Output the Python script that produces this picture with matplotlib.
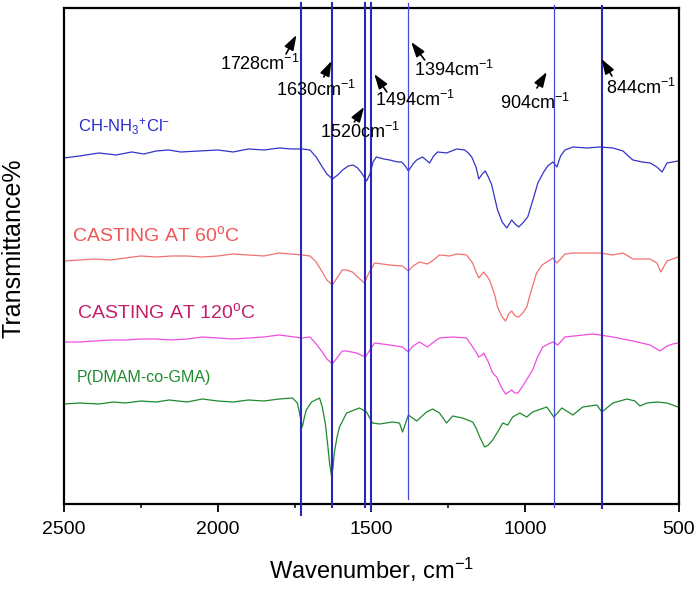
import matplotlib.pyplot as plt
from matplotlib.ticker import MultipleLocator

plt.rcParams['font.family'] = ['Liberation Sans', 'DejaVu Sans']
plt.rcParams['mathtext.fontset'] = 'custom'
plt.rcParams['mathtext.rm'] = 'Liberation Sans'
plt.rcParams['mathtext.it'] = 'Liberation Sans'

# spectra (wavenumber, offset transmittance in arbitrary units)
wn_blue = [2500, 2450, 2386, 2330, 2280, 2240, 2200, 2160, 2120, 2060, 2000, 1950, 1900,
           1850, 1800, 1760, 1725, 1700, 1680, 1660, 1645, 1627, 1610, 1594, 1575, 1560,
           1545, 1532, 1516, 1505, 1495, 1484, 1460, 1441, 1415, 1402, 1390, 1380, 1365,
           1353, 1334, 1311, 1298, 1285, 1256, 1223, 1197, 1185, 1174, 1160, 1151, 1140,
           1130, 1120, 1109, 1100, 1090, 1075, 1060, 1052, 1044, 1033, 1021, 1008, 992,
           975, 959, 940, 927, 910, 897, 885, 871, 845, 800, 757, 715, 682, 665, 650, 620,
           594, 572, 555, 539, 520, 503]
t_blue = [354, 356, 359, 357, 360, 358, 361, 362, 360, 361, 362, 360, 363,
          362, 364, 363, 363, 362, 355, 345, 338, 333, 337, 342, 346, 347,
          344, 339, 331, 338, 350, 355, 353, 352, 350, 350, 346, 341, 348,
          352, 355, 349, 356, 360, 359, 363, 362, 359, 355, 345, 333, 338,
          341, 335, 327, 315, 302, 290, 284, 288, 292, 288, 285, 289, 295,
          312, 329, 340, 346, 350, 345, 356, 362, 365, 364, 365, 364, 361, 356, 352, 350,
          349, 345, 340, 349, 350, 351]

wn_red = [2500, 2450, 2400, 2350, 2300, 2250, 2200, 2150, 2100, 2050, 2000, 1950, 1900,
          1850, 1800, 1725, 1700, 1680, 1660, 1645, 1627, 1610, 1595, 1581, 1562, 1545,
          1523, 1510, 1490, 1465, 1441, 1399, 1380, 1365, 1344, 1318, 1298, 1279, 1246,
          1223, 1191, 1171, 1160, 1151, 1140, 1135, 1125, 1116, 1100, 1090, 1075, 1064,
          1054, 1044, 1033, 1021, 1008, 995, 980, 963, 945, 930, 910, 897, 885, 871, 845,
          757, 715, 682, 650, 594, 572, 559, 539, 520, 503]
t_red = [251, 252, 253, 252, 254, 256, 255, 256, 256, 255, 256, 258, 257,
         256, 259, 257, 256, 250, 240, 232, 227, 235, 242, 242, 240, 235,
         229, 238, 249, 248, 247, 246, 241, 246, 250, 248, 252, 257, 256,
         258, 257, 249, 240, 234, 238, 240, 236, 232, 218, 205, 195, 191,
         198, 201, 196, 195, 199, 205, 222, 239, 247, 250, 254, 249, 253, 258, 259,
         259, 257, 259, 253, 253, 249, 240, 251, 253, 255]

wn_mag = [2500, 2450, 2400, 2350, 2300, 2250, 2200, 2150, 2100, 2050, 2000, 1950, 1900,
          1850, 1800, 1725, 1700, 1680, 1660, 1645, 1627, 1610, 1595, 1581, 1549, 1520,
          1505, 1490, 1465, 1441, 1399, 1380, 1365, 1344, 1318, 1298, 1279, 1236, 1191,
          1171, 1160, 1151, 1140, 1135, 1120, 1106, 1093, 1078, 1064, 1054, 1044, 1034,
          1024, 1008, 992, 976, 960, 943, 925, 910, 894, 871, 780, 715, 650, 594, 562,
          539, 520, 503]
t_mag = [170, 170, 171, 172, 172, 173, 173, 172, 173, 175, 174, 173, 174,
         175, 177, 174, 175, 168, 160, 153, 148, 155, 161, 161, 159, 155,
         162, 169, 168, 167, 165, 160, 166, 170, 165, 170, 174, 175, 174,
         165, 160, 155, 157, 159, 150, 139, 135, 125, 118, 120, 122, 119,
         119, 126, 134, 142, 155, 165, 168, 170, 167, 175, 178, 175, 171, 167, 161,
         166, 168, 169]

wn_green = [2500, 2450, 2386, 2340, 2300, 2250, 2200, 2158, 2100, 2050, 2000, 1950, 1900,
            1850, 1800, 1757, 1741, 1732, 1725, 1718, 1712, 1695, 1669, 1660, 1650, 1643,
            1636, 1630, 1625, 1621, 1612, 1604, 1581, 1539, 1516, 1497, 1474, 1432, 1409,
            1399, 1380, 1353, 1321, 1301, 1279, 1256, 1236, 1204, 1171, 1160, 1148, 1132,
            1120, 1106, 1090, 1073, 1057, 1041, 1018, 995, 976, 930, 907, 881, 845, 813,
            767, 751, 715, 669, 643, 627, 604, 572, 539, 503]
t_green = [108, 109, 108, 110, 109, 111, 110, 112, 110, 113, 111, 110, 112,
           111, 113, 114, 109, 96, 85, 95, 102, 110, 114, 105, 88, 69,
           48, 36, 45, 59, 75, 85, 99, 104, 100, 89, 88, 90, 89,
           80, 97, 91, 100, 103, 99, 89, 96, 94, 90, 84, 75, 65,
           67, 72, 80, 89, 87, 95, 99, 95, 100, 105, 95, 104, 97, 105,
           107, 100, 109, 113, 111, 106, 109, 110, 109, 105]

# marked bands: line position and label
band_pos = [1728, 1630, 1520, 1500, 1382, 907, 751]
band_lbl = ['1728', '1630', '1520', '1494', '1394', '904', '844']

fig = plt.figure(figsize=(7, 5.91), dpi=100)
ax = fig.add_axes([0.0914, 0.1472, 0.8786, 0.8393])

ax.plot(wn_blue, t_blue, color='#3434c8', lw=0.9)
ax.plot(wn_red, t_red, color='#f07272', lw=0.9)
ax.plot(wn_mag, t_mag, color='#f04ee0', lw=0.9)
ax.plot(wn_green, t_green, color='#1f8a2e', lw=0.9)

# vertical band markers (run a bit past the frame)
line_ends = [(-3, 509), (5, 509), (5, 509), (2, 509), (13, 509), (5, 507), (4, 506)]
line_w = [1.5, 1.5, 1.5, 1.5, 0.9, 0.9, 1.5]
line_c = ['#2828b4', '#2828b4', '#2828b4', '#2828b4', '#4848d8', '#4848d8', '#2828b4']
for p, (y0, y1), w, c in zip(band_pos, line_ends, line_w, line_c):
    ax.plot([p, p], [y0, y1], color=c, lw=w, clip_on=False, zorder=3)

# annotation texts and arrows
txt_xy = [(1862, 448), (1679, 422), (1539, 380), (1357, 412), (1233, 442), (969, 409), (624, 424)]
tips = [(1744, 477), (1630, 451), (1524, 405), (1491, 438), (1371, 470), (930, 440), (752, 453)]
tails = [(1778, 458), (1655, 435), (1556, 390), (1450, 420), (1327, 452), (962, 424), (718, 436)]
for lbl, (tx, ty), tip, tail in zip(band_lbl, txt_xy, tips, tails):
    ax.text(tx, ty, lbl + r'cm$^{-1}$', fontsize=13, ha='center', va='center', zorder=4)
    ax.annotate('', xy=tip, xytext=tail,
                arrowprops=dict(arrowstyle='-|>,head_length=0.9,head_width=0.3',
                                color='k', lw=1.2, mutation_scale=10,
                                shrinkA=0, shrinkB=0))

# sample labels
ax.text(2454, 380, r'CH-NH$_3$$^{+}$Cl$^{-}$', color='#2a2acc', fontsize=12, va='baseline')
ax.text(2474, 271, r'CASTING AT 60$^{\rm o}$C', color='#f05555', fontsize=14, va='baseline')
ax.text(2458, 194, r'CASTING AT 120$^{\rm o}$C', color='#c41e6a', fontsize=14, va='baseline')
ax.text(2458, 130, 'P(DMAM-co-GMA)', color='#1f8a2e', fontsize=11.5, va='baseline')

ax.set_xlim(2500, 500)
ax.set_ylim(8, 504)
ax.xaxis.set_major_locator(MultipleLocator(500))
ax.xaxis.set_minor_locator(MultipleLocator(250))
ax.tick_params(axis='x', which='major', direction='out', length=6, width=1.3,
               labelsize=14, pad=6, top=False)
ax.tick_params(axis='x', which='minor', direction='out', length=3, width=1.1, top=False)
ax.set_yticks([])
for s in ax.spines.values():
    s.set_linewidth(1.6)

ax.set_xlabel(r'Wavenumber, cm$^{-1}$', fontsize=17)
ax.xaxis.set_label_coords(0.5, -0.105)
ax.set_ylabel('Transmittance%', fontsize=18)
ax.yaxis.set_label_coords(-0.062, 0.516)

fig.savefig('out.png', dpi=100)
